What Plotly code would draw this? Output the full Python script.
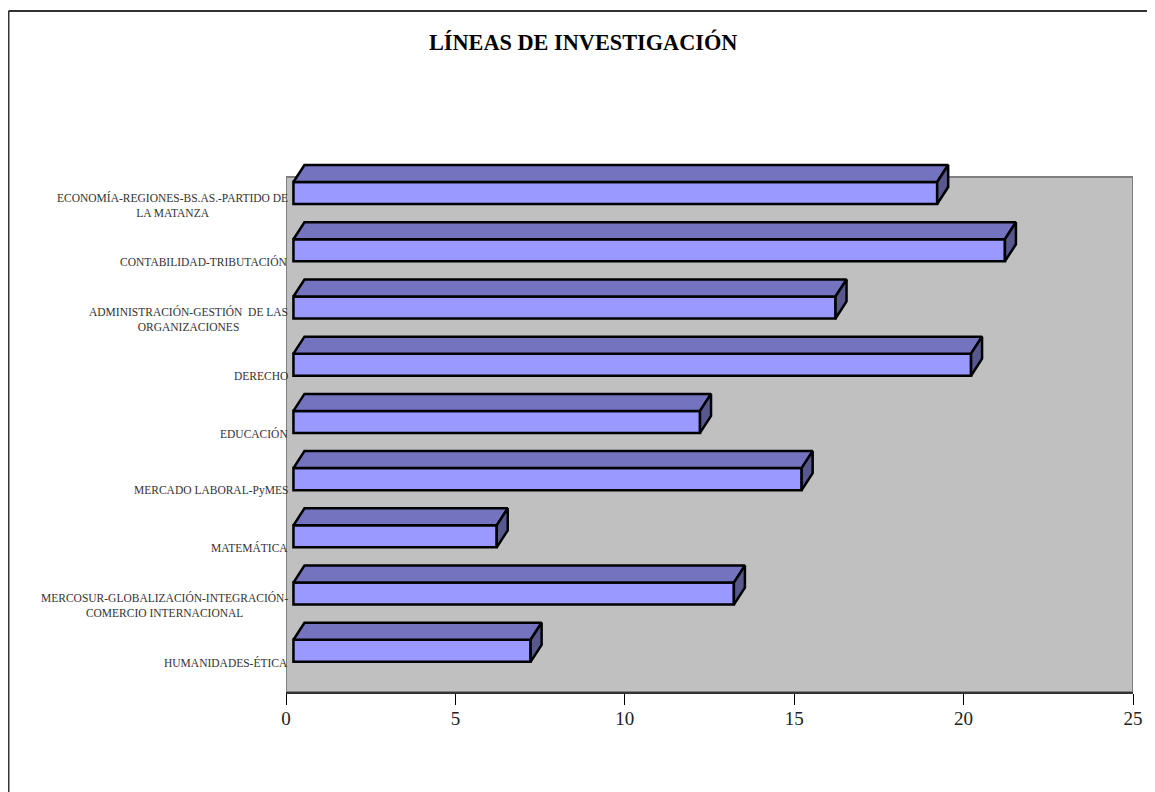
import plotly.graph_objects as go

# categories top to bottom
categories = [
    "ECONOMÍA-REGIONES-BS.AS.-PARTIDO DE<br>LA MATANZA",
    "CONTABILIDAD-TRIBUTACIÓN",
    "ADMINISTRACIÓN-GESTIÓN  DE LAS<br>ORGANIZACIONES",
    "DERECHO",
    "EDUCACIÓN",
    "MERCADO LABORAL-PyMES",
    "MATEMÁTICA",
    "MERCOSUR-GLOBALIZACIÓN-INTEGRACIÓN-<br>COMERCIO INTERNACIONAL",
    "HUMANIDADES-ÉTICA",
]
values = [19, 21, 16, 20, 12, 15, 6, 13, 7]
x_ticks = [0, 5, 10, 15, 20, 25]

# fake 3d look, in axis units
wall = 0.22     # gap between the axis and the bar front
depth_x = 0.325
depth_y = 0.297
thick = 0.385
lift = 0.22     # bar sits a bit above the category centre

FRONT = "#9999FF"
TOP = "#7373BF"
SIDE = "#58588F"
EDGE = "#000000"
WALL = "#C0C0C0"
WALL_EDGE = "#808080"
FRAME = "#333333"
SERIF = "Liberation Serif"

# plot box, leaves room above the wall for the top faces of the first bar
M_L, M_R, M_T, M_B = 278, 30, 152, 108
PLOT_W = 1155 - M_L - M_R
PLOT_H = 792 - M_T - M_B

positions = list(range(len(categories)))

fig = go.Figure()

# grey wall behind the bars
fig.add_shape(type="rect", xref="x", yref="y", x0=0, x1=25, y0=-0.5, y1=8.5,
              fillcolor=WALL, line=dict(color=WALL_EDGE, width=2), layer="below")

# front faces
fig.add_trace(go.Bar(
    x=values,
    y=[p - lift for p in positions],
    base=wall,
    width=thick,
    orientation="h",
    marker=dict(color=FRONT, line=dict(color=EDGE, width=2.5)),
    showlegend=False,
))

# top and side faces
for p, v in zip(positions, values):
    y0 = p - lift - thick / 2
    y1 = p - lift + thick / 2
    x0 = wall
    x1 = wall + v
    fig.add_trace(go.Scatter(
        x=[x0, x0 + depth_x, x1 + depth_x, x1, x0],
        y=[y0, y0 - depth_y, y0 - depth_y, y0, y0],
        mode="lines", fill="toself", fillcolor=TOP,
        line=dict(color=EDGE, width=2.5),
        showlegend=False,
    ))
    fig.add_trace(go.Scatter(
        x=[x1, x1 + depth_x, x1 + depth_x, x1, x1],
        y=[y0, y0 - depth_y, y1 - depth_y, y1, y0],
        mode="lines", fill="toself", fillcolor=SIDE,
        line=dict(color=EDGE, width=2.5),
        showlegend=False,
    ))

# labels are centred per line, tick labels cannot do that
for p, c in zip(positions, categories):
    fig.add_annotation(
        x=0, y=p, xref="x", yref="y", text=c, showarrow=False,
        xanchor="right", align="center", xshift=3.5, yshift=1,
        font=dict(family=SERIF, size=11.5, color="#333333"),
    )

# outer frame: only the left and top edges show
frame_x = -(M_L - 0.5) / PLOT_W
frame_y = 1 + (M_T - 3) / PLOT_H
fig.add_shape(type="line", xref="paper", yref="paper", x0=frame_x, x1=frame_x, y0=-M_B / PLOT_H, y1=frame_y,
              line=dict(color=FRAME, width=2))
fig.add_shape(type="line", xref="paper", yref="paper", x0=frame_x, x1=1 + M_R / PLOT_W, y0=frame_y, y1=frame_y,
              line=dict(color=FRAME, width=2))

fig.update_layout(
    width=1155, height=792,
    margin=dict(l=M_L, r=M_R, t=M_T, b=M_B),
    paper_bgcolor="white",
    plot_bgcolor="white",
    font=dict(family=SERIF, color="#000000"),
    title=dict(text="<b>LÍNEAS DE INVESTIGACIÓN</b>", x=0.498, xref="container", xanchor="center",
               y=0.957, yref="container", yanchor="middle", font=dict(family=SERIF, size=22.3, color="#000000")),
)
fig.update_xaxes(
    range=[0, 25], tickvals=x_ticks, ticks="outside", ticklen=11, tickwidth=1, tickcolor="#000000",
    showgrid=False, zeroline=False, showline=True, linecolor="#333333", linewidth=2,
    ticklabelstandoff=-3,
    tickfont=dict(family=SERIF, size=19, color="#222222"),
)
fig.update_yaxes(
    range=[8.5, -0.797], tickvals=[], showgrid=False, zeroline=False, showline=False,
)

fig.write_html("out.html")
